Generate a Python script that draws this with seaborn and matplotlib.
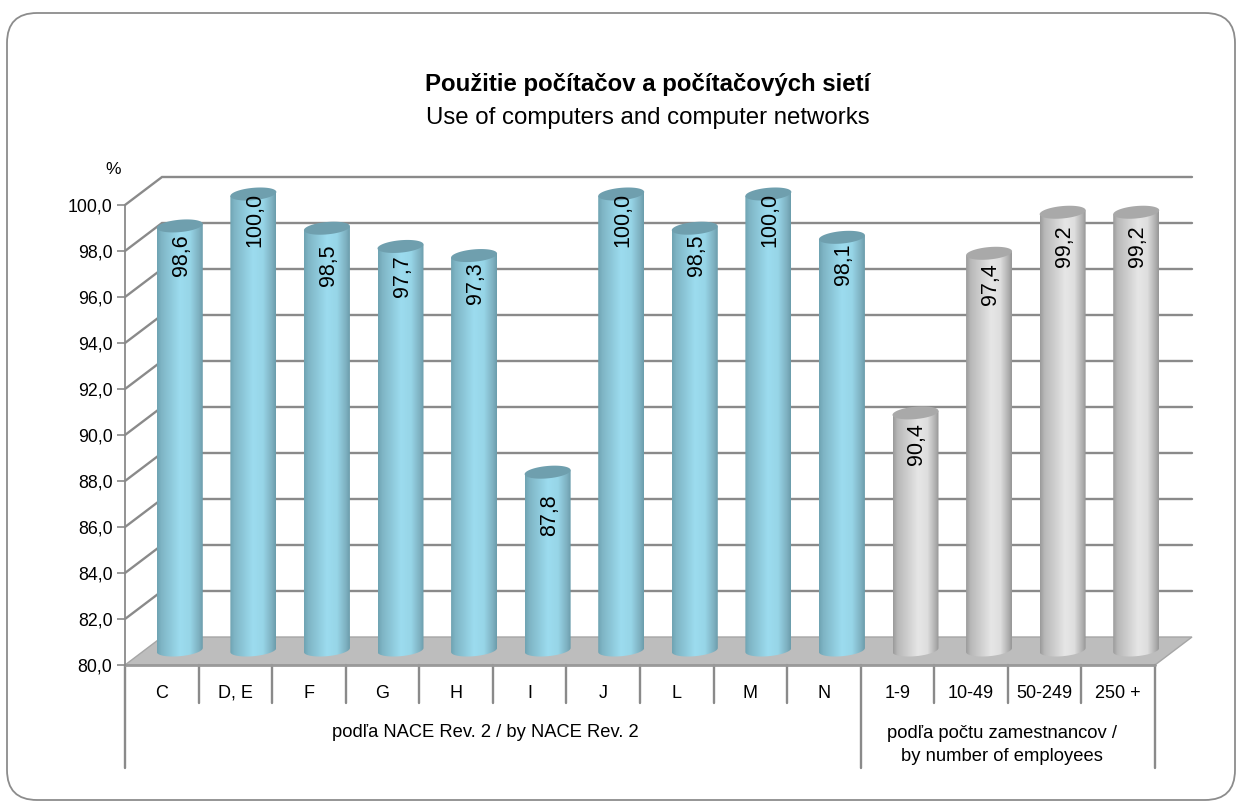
import numpy as np
import pandas as pd
import matplotlib
matplotlib.use("Agg")
import matplotlib.pyplot as plt
from matplotlib.colors import LinearSegmentedColormap
from matplotlib.patches import FancyBboxPatch, Polygon
from matplotlib.transforms import ScaledTranslation
import seaborn as sns

categories = ["C", "D, E", "F", "G", "H", "I", "J", "L", "M", "N", "1-9", "10-49", "50-249", "250 +"]
values = [98.6, 100.0, 98.5, 97.7, 97.3, 87.8, 100.0, 98.5, 100.0, 98.1, 90.4, 97.4, 99.2, 99.2]
groups = ["nace"] * 10 + ["size"] * 4
yticks = list(range(80, 101, 2))
label_drop_px = [29, 26, 37, 30, 28, 43, 26, 27, 26, 27, 31, 31, 34, 34]

title = "Použitie počítačov a počítačových sietí"
subtitle = "Use of computers and computer networks"
group_nace = "podľa NACE Rev. 2 / by NACE Rev. 2"
group_size = "podľa počtu zamestnancov /\nby number of employees"

W, H = 1240, 805
GRAY = "#8a8a8a"
FRONT_L, FRONT_R, FRONT_T, FRONT_B = 125, 1155, 205, 665
DX, DY = 37, 28
BAR_DX, BAR_B, BAR_T = 18, 650, 194
BAR_W = 0.625
ELL_PX, TILT_PX = 6.2, 2.0

sns.set_theme(style="white")
plt.rcParams["font.family"] = ["Liberation Sans", "DejaVu Sans"]
fig = plt.figure(figsize=(W / 100, H / 100), dpi=100, facecolor="white")


def box(l, r, t, b):
    return [l / W, 1 - b / H, (r - l) / W, (b - t) / H]


# background: frame, walls, floor (pixel space)
bg = fig.add_axes([0, 0, 1, 1], zorder=0)
bg.set_xlim(0, W)
bg.set_ylim(H, 0)
bg.axis("off")
bg.add_patch(FancyBboxPatch((7 + 30, 13 + 30), 1228 - 60, 787 - 60,
                            boxstyle="round,pad=30,rounding_size=30",
                            fc="white", ec="#8c8c8c", lw=1.3))
step = (FRONT_B - FRONT_T) / (yticks[-1] - yticks[0])
for v in yticks[1:]:
    y = FRONT_B - (v - yticks[0]) * step
    bg.plot([FRONT_L, FRONT_L + DX, FRONT_R + DX], [y, y - DY, y - DY], color=GRAY, lw=1.7,
            solid_joinstyle="miter")
bg.add_patch(Polygon([(FRONT_L, FRONT_B), (FRONT_L + DX, FRONT_B - DY), (FRONT_R + DX, FRONT_B - DY),
                      (FRONT_R, FRONT_B)], closed=True, fc="#bdbdbd", ec="#a6a6a6", lw=1))
unit = (FRONT_R - FRONT_L) / len(categories)
for i in range(len(categories) + 1):
    x = FRONT_L + i * unit
    bottom = 768 if i in (0, 10, len(categories)) else 703
    bg.plot([x, x], [FRONT_B, bottom], color=GRAY, lw=1.7)
bg.plot([FRONT_L, FRONT_R], [FRONT_B, FRONT_B], color="#9a9a9a", lw=2)
bg.text(648, 84, title, ha="center", va="center", fontsize=17.3, fontweight="bold", color="black")
bg.text(648, 118, subtitle, ha="center", va="center", fontsize=17.3, color="black")
bg.text(113, 170, "%", ha="center", va="center", fontsize=12.5, color="black")
bg.text(485, 732, group_nace, ha="center", va="center", fontsize=13.2, color="black")
bg.text(1002, 745, group_size, ha="center", va="center", fontsize=13.2, color="black",
        linespacing=1.4)

# front axis: scales and tick labels
ax = fig.add_axes(box(FRONT_L, FRONT_R, FRONT_T, FRONT_B), zorder=1)
ax.patch.set_alpha(0)
ax.set_xlim(-0.5, len(categories) - 0.5)
ax.set_ylim(yticks[0], yticks[-1])
ax.set_yticks(yticks)
ax.set_yticklabels([f"{v:.1f}".replace(".", ",") for v in yticks], fontsize=12.8, color="black")
ax.set_xticks(range(len(categories)))
ax.set_xticklabels(categories, fontsize=13, color="black", va="baseline")
ax.tick_params(axis="y", length=5.5, width=1.2, color=GRAY, pad=3.5, left=True)
ax.tick_params(axis="x", length=0, pad=23.5)
for s in ("top", "right", "bottom"):
    ax.spines[s].set_visible(False)
ax.spines["left"].set_color(GRAY)
ax.spines["left"].set_linewidth(1.3)

# bars
bx = fig.add_axes(box(FRONT_L + BAR_DX, FRONT_R + BAR_DX, BAR_T, BAR_B), zorder=2)
bx.patch.set_alpha(0)
df = pd.DataFrame({"category": categories, "value": values, "group": groups})
sns.barplot(data=df, x="category", y="value", hue="group", dodge=False, legend=False,
            palette={"nace": "#9ad8ea", "size": "#e3e3e3"}, width=BAR_W, ax=bx, linewidth=0)
bx.set_xlim(-0.5, len(categories) - 0.5)
bx.set_ylim(yticks[0], yticks[-1])
bx.axis("off")

cm_blue = LinearSegmentedColormap.from_list("b", [(0, "#6fa3b2"), (0.1, "#7fb5c5"), (0.5, "#9cdcef"),
                                                  (0.72, "#97d5e7"), (0.92, "#7dafbf"), (1, "#6a9cab")])
cm_gray = LinearSegmentedColormap.from_list("g", [(0, "#9a9a9a"), (0.1, "#b8b8b8"), (0.55, "#e6e6e6"),
                                                  (0.75, "#dedede"), (0.92, "#b0b0b0"), (1, "#969696")])
top_color = {"nace": "#6f9fae", "size": "#a9a9a9"}
px_y = (yticks[-1] - yticks[0]) / (BAR_B - BAR_T)
t = np.linspace(0, 2 * np.pi, 81)
nudge = ScaledTranslation(1.5 / 100, 0, fig.dpi_scale_trans)


def ring(xc, half, yc):
    return np.column_stack([xc + half * np.cos(t),
                            yc + px_y * (ELL_PX * np.sin(t) + TILT_PX * np.cos(t))])


bars = sorted([p for p in bx.patches if p.get_height() > 0], key=lambda p: p.get_x())
for bar, val, grp, drop in zip(bars, values, groups, label_drop_px):
    x0, w = bar.get_x(), bar.get_width()
    xc, half = x0 + w / 2, w / 2
    bar.set_visible(False)
    im = bx.imshow(np.linspace(0, 1, 256)[None, :], extent=[x0, x0 + w, yticks[0] - 1, val + 1],
                   cmap=cm_blue if grp == "nace" else cm_gray, aspect="auto", zorder=3)
    lower = ring(xc, half, yticks[0])[40:]
    upper = ring(xc, half, val)[:41][[0, 40]]
    im.set_clip_path(Polygon(np.vstack([lower, upper]), closed=True, transform=bx.transData))
    im.set_clip_box(fig.bbox)
    bx.add_patch(Polygon(ring(xc, half, val), closed=True, fc=top_color[grp], ec="none", zorder=4,
                         clip_on=False))
    bx.text(xc, val - drop * px_y, f"{val:.1f}".replace(".", ","), rotation=90, ha="center", va="center",
            fontsize=15.5, color="black", zorder=5, clip_on=False, transform=bx.transData + nudge)
bx.set_xlim(-0.5, len(categories) - 0.5)
bx.set_ylim(yticks[0], yticks[-1])

fig.savefig("out.png", dpi=100)
